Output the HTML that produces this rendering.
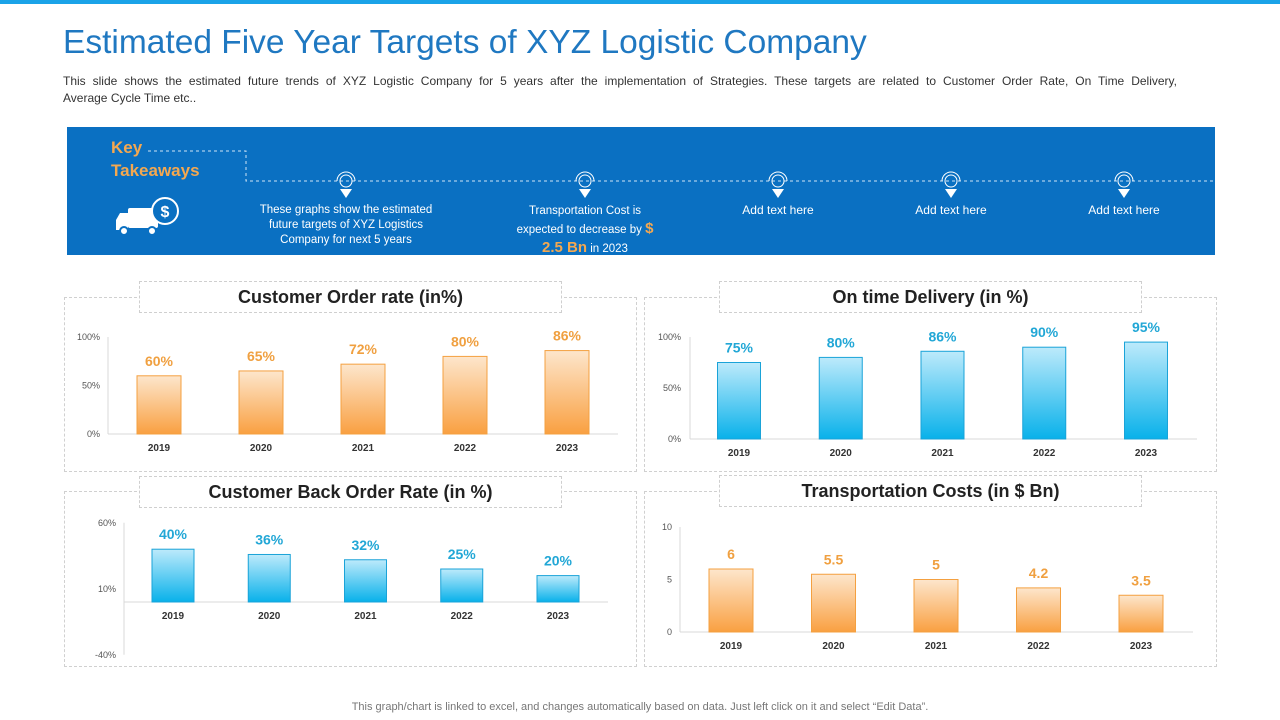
<!DOCTYPE html>
<html><head><meta charset="utf-8"><style>
body{margin:0;width:1280px;height:720px;position:relative;background:#fff;font-family:"Liberation Sans",sans-serif;overflow:hidden}
.abs{position:absolute}
.panel{position:absolute;border:1px dashed #d0d0d0;background:#fff}
.tbox{position:absolute;border:1px dashed #cfcfcf;background:#fff;text-align:center;font-size:18px;font-weight:bold;color:#222;line-height:30px}
.kt{position:absolute;color:#fff;font-size:12px;text-align:center;line-height:15px}
</style></head><body>
<div class="abs" style="left:0;top:0;width:1280px;height:4px;background:#1aa3e8"></div>
<div class="abs" style="left:63px;top:24px;font-size:33.5px;color:#1f78c1">Estimated Five Year Targets of XYZ Logistic Company</div>
<div class="abs" style="left:63px;top:73px;width:1114px;font-size:12px;color:#333;line-height:17px"><span style="display:block;text-align:justify;text-align-last:justify;white-space:nowrap">This slide shows the estimated future trends of XYZ Logistic Company for 5 years after the implementation of Strategies. These targets are related to Customer Order Rate, On Time Delivery,</span>Average Cycle Time etc..</div>
<div class="abs" style="left:67px;top:127px;width:1148px;height:128px;background:#0a70c2"></div>
<svg class="abs" style="left:0;top:0" width="1280" height="720">
<path d="M148 151 H246 V181 H1215" fill="none" stroke="#cfe3f5" stroke-dasharray="3,3"/>
<g fill="#fff" stroke="#fff">
<g transform="translate(346,181)"><circle r="6" fill="none"/><path d="M-9 0 A9 9 0 0 1 9 0" fill="none"/><polygon points="-6,8 6,8 0,17" stroke="none"/></g>
<g transform="translate(585,181)"><circle r="6" fill="none"/><path d="M-9 0 A9 9 0 0 1 9 0" fill="none"/><polygon points="-6,8 6,8 0,17" stroke="none"/></g>
<g transform="translate(778,181)"><circle r="6" fill="none"/><path d="M-9 0 A9 9 0 0 1 9 0" fill="none"/><polygon points="-6,8 6,8 0,17" stroke="none"/></g>
<g transform="translate(951,181)"><circle r="6" fill="none"/><path d="M-9 0 A9 9 0 0 1 9 0" fill="none"/><polygon points="-6,8 6,8 0,17" stroke="none"/></g>
<g transform="translate(1124,181)"><circle r="6" fill="none"/><path d="M-9 0 A9 9 0 0 1 9 0" fill="none"/><polygon points="-6,8 6,8 0,17" stroke="none"/></g>
</g>
<g>
<rect x="128" y="208" width="30" height="20" rx="2" fill="#fff"/>
<path d="M128 213 H120 L116 220 V230 H128 Z" fill="#fff"/>
<circle cx="124" cy="231" r="4" fill="#fff" stroke="#0a70c2" stroke-width="2"/>
<circle cx="152" cy="231" r="4" fill="#fff" stroke="#0a70c2" stroke-width="2"/>
<circle cx="165" cy="211" r="13" fill="#0a70c2" stroke="#fff" stroke-width="2"/>
<text x="165" y="217" font-size="16" font-weight="bold" fill="#fff" text-anchor="middle" font-family="Liberation Sans">$</text>
</g>
</svg>
<div class="abs" style="left:111px;top:136px;font-size:17px;font-weight:bold;color:#f4a850;line-height:23px">Key<br>Takeaways</div>
<div class="kt" style="left:251px;top:203px;width:190px;font-size:11.5px">These graphs show the estimated future targets of XYZ Logistics Company for next 5 years</div>
<div class="kt" style="left:505px;top:202px;width:160px;line-height:18px;font-size:11.5px">Transportation Cost is expected to decrease by <b style="color:#f4a850;font-size:15px">$</b><br><b style="color:#f4a850;font-size:15px">2.5 Bn</b> in 2023</div>
<div class="kt" style="left:718px;top:203px;width:120px">Add text here</div>
<div class="kt" style="left:891px;top:203px;width:120px">Add text here</div>
<div class="kt" style="left:1064px;top:203px;width:120px">Add text here</div>

<div class="panel" style="left:64px;top:297px;width:571px;height:173px"></div>
<div class="panel" style="left:644px;top:297px;width:571px;height:173px"></div>
<div class="panel" style="left:64px;top:491px;width:571px;height:174px"></div>
<div class="panel" style="left:644px;top:491px;width:571px;height:174px"></div>
<div class="tbox" style="left:139px;top:281px;width:421px;height:30px">Customer Order rate (in%)</div>
<div class="tbox" style="left:719px;top:281px;width:421px;height:30px">On time Delivery (in %)</div>
<div class="tbox" style="left:139px;top:476px;width:421px;height:30px">Customer Back Order Rate (in %)</div>
<div class="tbox" style="left:719px;top:475px;width:421px;height:30px">Transportation Costs (in $ Bn)</div>

<svg id="charts" class="abs" style="left:0;top:0" width="1280" height="720">
<defs>
<linearGradient id="gO" x1="0" y1="0" x2="0" y2="1"><stop offset="0" stop-color="#fde6cc"/><stop offset="1" stop-color="#f9a041"/></linearGradient>
<linearGradient id="gB" x1="0" y1="0" x2="0" y2="1"><stop offset="0" stop-color="#bdeafb"/><stop offset="1" stop-color="#08b1ea"/></linearGradient>
</defs>
</svg>
<div class="abs" style="left:0;top:701px;width:1280px;text-align:center;font-size:11px;color:#777">This graph/chart is linked to excel, and changes automatically based on data. Just left click on it and select “Edit Data”.</div>
<script>
const years=["2019","2020","2021","2022","2023"];
const orderRate=[60,65,72,80,86];
const onTime=[75,80,86,90,95];
const backOrder=[40,36,32,25,20];
const transport=[6,5.5,5,4.2,3.5];
const pctTicks=["0%","50%","100%"];
const backTicks=["-40%","10%","60%"];
const costTicks=["0","5","10"];
const pctTickVals=[0,50,100];
const backTickVals=[-40,10,60];
const costTickVals=[0,5,10];
const svg=document.getElementById('charts');
const NS='http://www.w3.org/2000/svg';
function mk(t,a){const e=document.createElementNS(NS,t);for(const k in a)e.setAttribute(k,a[k]);svg.appendChild(e);return e;}
function chart(o){
  const y=v=>o.y0-(v-o.v0)/(o.v1-o.v0)*(o.y0-o.y1);
  const x=i=>o.xs+(o.xe-o.xs)*i/(o.vals.length-1);
  const ax=mk('line',{x1:o.axX,x2:o.axX,y1:y(o.tickVals[o.tickVals.length-1]),y2:y(o.tickVals[0]),stroke:'#d9d9d9'});
  
  const bl=mk('line',{x1:o.axX,x2:o.axE,y1:y(0),y2:y(0),stroke:'#d9d9d9'});
  
  o.tickVals.forEach((tv,i)=>{const t=mk('text',{x:o.axX-o.tg,y:y(tv)+3,'font-size':9,fill:'#555','text-anchor':'end','font-family':'Liberation Sans'});t.textContent=o.ticks[i];
    });
  o.vals.forEach((v,i)=>{
    const cx=x(i);
    const r=mk('rect',{x:cx-o.bw/2,y:y(v),width:o.bw,height:y(0)-y(v),fill:o.fill,stroke:o.stroke,'stroke-width':1});
    
    const lt=mk('text',{x:cx,y:y(v)-10,'font-size':14,'font-weight':'bold',fill:o.lc,'text-anchor':'middle','font-family':'Liberation Sans'});
    lt.textContent=v+o.suf;
    
    const xt=mk('text',{x:cx,y:y(0)+17,'font-size':10,'font-weight':'bold',fill:'#333','text-anchor':'middle','font-family':'Liberation Sans'});
    xt.textContent=years[i];
    
  });
}
chart({name:'order-rate',vals:orderRate,v0:0,v1:100,y0:434,y1:337,xs:159,xe:567,bw:44,axX:108,axE:618,tg:8,ticks:pctTicks,tickVals:pctTickVals,fill:'url(#gO)',stroke:'#f4a040',lc:'#f0a040',suf:'%'});
chart({name:'on-time',vals:onTime,v0:0,v1:100,y0:439,y1:337,xs:739,xe:1146,bw:43,axX:690,axE:1197,tg:9,ticks:pctTicks,tickVals:pctTickVals,fill:'url(#gB)',stroke:'#1aa3d8',lc:'#22a7d6',suf:'%'});
chart({name:'back-order',vals:backOrder,v0:0,v1:50,y0:602,y1:536,xs:173,xe:558,bw:42,axX:124,axE:608,tg:8,ticks:backTicks,tickVals:backTickVals,fill:'url(#gB)',stroke:'#1aa3d8',lc:'#22a7d6',suf:'%'});
chart({name:'transport',vals:transport,v0:0,v1:10,y0:632,y1:527,xs:731,xe:1141,bw:44,axX:680,axE:1193,tg:8,ticks:costTicks,tickVals:costTickVals,fill:'url(#gO)',stroke:'#f4a040',lc:'#f0a040',suf:''});
</script>
</body></html>
